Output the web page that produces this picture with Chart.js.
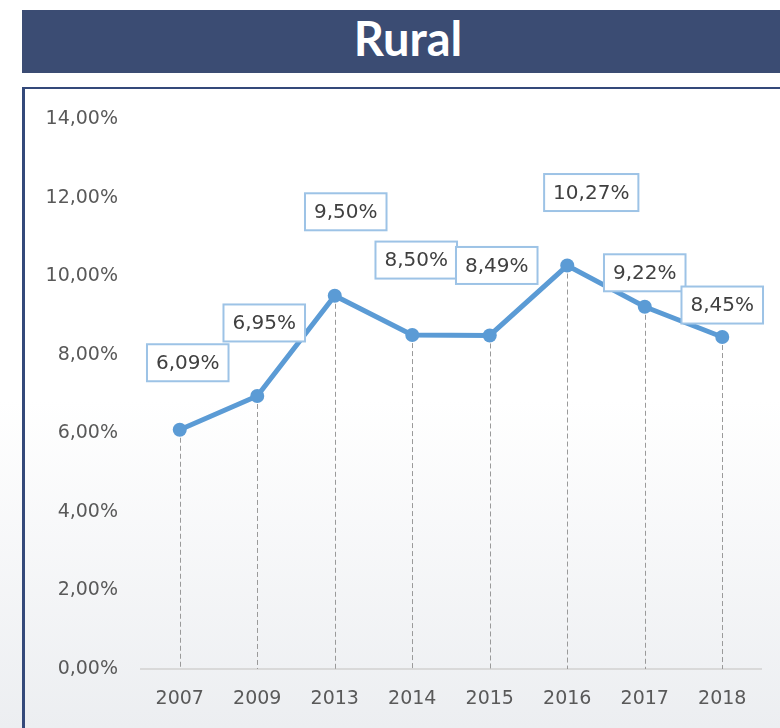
<!DOCTYPE html>
<html>
<head>
<meta charset="utf-8">
<script src="https://cdn.jsdelivr.net/npm/chart.js@4/dist/chart.umd.min.js"></script>
<style>
  html, body { margin: 0; padding: 0; }
  body {
    width: 780px; height: 728px; overflow: hidden; position: relative;
    background: linear-gradient(to bottom, #ffffff 0%, #ffffff 55%, #eceef1 100%);
  }
  .bar {
    position: absolute; left: 22px; top: 10px; width: 790px; height: 63px;
    background: #3b4c73;
  }
  .bar span {
    position: absolute; left: 0; width: 772px; top: 0; line-height: 63px;
    text-align: center; color: #fff; font: bold 47px Lato, sans-serif;
  }
  .box {
    position: absolute; left: 22px; top: 87px; width: 800px; height: 700px;
    border-left: 3px solid #34497a; border-top: 2px solid #34497a;
  }
  #c { position: absolute; left: 0; top: 0; }
</style>
</head>
<body>
<div class="bar"><span>Rural</span></div>
<div class="box"></div>
<canvas id="c" width="780" height="728"></canvas>
<script>
// data
const years = ['2007', '2009', '2013', '2014', '2015', '2016', '2017', '2018'];
const rural = [6.09, 6.95, 9.50, 8.50, 8.49, 10.27, 9.22, 8.45];
const yTicks = [0, 2, 4, 6, 8, 10, 12, 14];

// where each value box sits relative to its point
const labelShift = [[8, -67], [7, -73], [11, -84], [4, -75], [7, -70], [24, -73], [0, -34], [0, -32]];

const fmt = v => v.toFixed(2).replace('.', ',') + '%';

const dropLines = {
  id: 'dropLines',
  beforeDatasetsDraw(chart) {
    const ctx = chart.ctx;
    const bottom = chart.chartArea.bottom;
    ctx.save();
    ctx.strokeStyle = '#9a9a9a';
    ctx.lineWidth = 1;
    ctx.setLineDash([5, 3]);
    chart.getDatasetMeta(0).data.forEach(p => {
      ctx.beginPath();
      ctx.moveTo(Math.round(p.x) + 0.5, p.y);
      ctx.lineTo(Math.round(p.x) + 0.5, bottom);
      ctx.stroke();
    });
    ctx.restore();
  }
};

const valueBoxes = {
  id: 'valueBoxes',
  afterDatasetsDraw(chart) {
    const ctx = chart.ctx;
    ctx.save();
    ctx.font = '20px "DejaVu Sans"';
    ctx.textAlign = 'center';
    ctx.textBaseline = 'middle';
    chart.getDatasetMeta(0).data.forEach((p, i) => {
      const txt = fmt(rural[i]);
      const cx = p.x + labelShift[i][0];
      const cy = p.y + labelShift[i][1];
      const w = ctx.measureText(txt).width + 18;
      const h = 37;
      ctx.fillStyle = '#ffffff';
      ctx.fillRect(cx - w / 2, cy - h / 2, w, h);
      ctx.strokeStyle = '#9dc3e6';
      ctx.lineWidth = 2;
      ctx.strokeRect(cx - w / 2, cy - h / 2, w, h);
      ctx.fillStyle = '#404040';
      ctx.fillText(txt, cx, cy + 1);
    });
    ctx.restore();
  }
};

new Chart(document.getElementById('c'), {
  type: 'line',
  data: {
    labels: years,
    datasets: [{
      data: rural,
      borderColor: '#5b9bd5',
      backgroundColor: '#5b9bd5',
      borderWidth: 5,
      pointRadius: 7,
      pointBorderWidth: 0,
      tension: 0
    }]
  },
  options: {
    responsive: false,
    animation: false,
    layout: { padding: { top: 119, right: 19, left: 0, bottom: 0 } },
    plugins: { legend: { display: false }, tooltip: { enabled: false } },
    scales: {
      x: {
        offset: true,
        grid: { display: false, drawTicks: false },
        border: { color: '#d9d9d9', width: 2 },
        ticks: { color: '#595959', font: { family: 'DejaVu Sans', size: 19 }, padding: 19 },
        afterFit: s => { s.height = 59; }
      },
      y: {
        min: 0, max: 14,
        afterBuildTicks: s => { s.ticks = yTicks.map(v => ({ value: v })); },
        grid: { display: false, drawTicks: false },
        border: { display: false },
        ticks: {
          color: '#595959', font: { family: 'DejaVu Sans', size: 19 }, padding: 23,
          callback: v => fmt(v)
        },
        afterFit: s => { s.width = 141; }
      }
    }
  },
  plugins: [dropLines, valueBoxes]
});
</script>
</body>
</html>
